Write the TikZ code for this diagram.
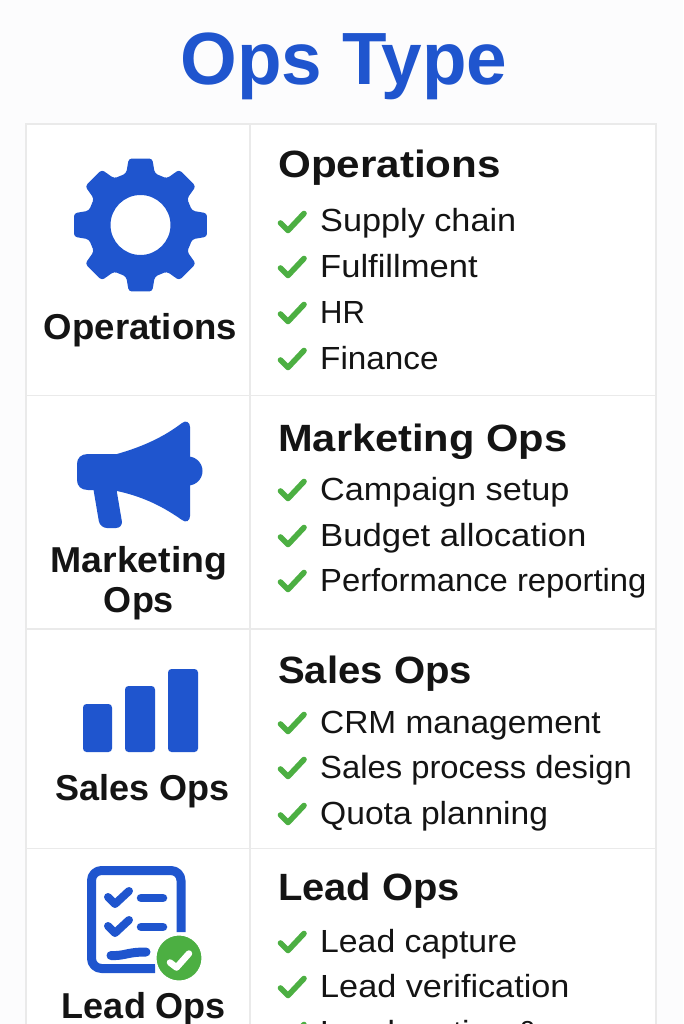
\documentclass[tikz,border=0pt]{standalone}
\usepackage{graphicx}
\usepackage{fontspec}
\setmainfont{Liberation Sans}
\definecolor{brandblue}{HTML}{1F55CE}
\definecolor{tickgreen}{HTML}{4CAF42}
\definecolor{gridgrey}{HTML}{EAEAEA}
\definecolor{inkblack}{HTML}{141414}
\definecolor{pagebg}{HTML}{FCFCFD}
\tikzset{
  x=1pt,y=-1pt,
  titletext/.style={anchor=base,inner sep=0pt,text=brandblue,font=\fontsize{74}{74}\selectfont\bfseries},
  headtext/.style={anchor=base west,inner sep=0pt,text=inkblack,font=\fontsize{38}{38}\selectfont\bfseries},
  labeltext/.style={anchor=base,inner sep=0pt,text=inkblack,font=\fontsize{36}{36}\selectfont\bfseries},
  itemtext/.style={anchor=base west,inner sep=0pt,text=inkblack,font=\fontsize{32}{32}\selectfont},
  tickmark/.style={draw=tickgreen,line width=5.6pt,line cap=round,line join=round},
  gridline/.style={draw=gridgrey,line width=1.5pt},
  iconfill/.style={fill=brandblue,draw=none},
  iconstroke/.style={draw=brandblue,line cap=round,line join=round},
}
\newcommand{\opsitem}[4]{%
  \node[itemtext] (#2) at (320,#3) {\scalebox{#1}[1]{#4}};
  \draw[tickmark] (280.5,#3-9) -- (288,#3-1.5) -- (304,#3-18.5);
}
\begin{document}
\begin{tikzpicture}
\useasboundingbox (0,0) rectangle (683,1024);
\clip (0,0) rectangle (683,1024);
\fill[pagebg] (0,0) rectangle (683,1024);
\node[titletext] (title) at (344,85) {\scalebox{0.985}[1]{Ops Type}};
% table
\fill[white] (26,124) rectangle (656,1030);
\draw[gridline] (26,1030) -- (26,124) -- (656,124) -- (656,1030);
\draw[gridline] (250,124) -- (250,1030);
\draw[gridline] (26,395.5) -- (656,395.5);
\draw[gridline] (26,629) -- (656,629);
\draw[gridline] (26,848.5) -- (656,848.5);
% gear
\begin{scope}[shift={(140.5,225)}]
\fill[iconfill,rounded corners=3pt,even odd rule] (22.5:53.5)
  \foreach \a in {45,90,...,360} {
    -- (\a-15.5:53.5) -- (\a-10:67.5) -- (\a+10:67.5) -- (\a+15.5:53.5)
  } -- cycle (0,0) circle (30);
\end{scope}
% megaphone
\fill[iconfill,rounded corners=7pt] (91,475) -- (100,528) -- (123,528) -- (114,475) -- cycle;
\fill[iconfill] (188,471) circle (14.5);
\fill[iconfill] (88,454) -- (117,454) .. controls (145,446) and (165,436) .. (182,423)
  .. controls (186,420) and (190,422) .. (190,427) -- (190,516)
  .. controls (190,521) and (186,523) .. (182,520)
  .. controls (165,508) and (145,497) .. (117,491) -- (88,490)
  .. controls (81,490) and (77,486) .. (77,480) -- (77,464)
  .. controls (77,458) and (81,454) .. (88,454) -- cycle;
% bars
\fill[iconfill,rounded corners=3.5pt] (83,704) rectangle (112,752);
\fill[iconfill,rounded corners=3.5pt] (125,686) rectangle (155,752);
\fill[iconfill,rounded corners=3.5pt] (168,669) rectangle (198,752);
% checklist
\draw[iconstroke,line width=9pt,rounded corners=10pt,line cap=butt] (181,932) -- (181,870.5) -- (91.5,870.5) -- (91.5,968.5) -- (155,968.5);
\draw[iconstroke,line width=8pt] (108,897) -- (115,904) -- (129,891);
\draw[iconstroke,line width=8pt] (108,926) -- (115,933) -- (129,920);
\draw[iconstroke,line width=8.5pt] (141,898) -- (163,898);
\draw[iconstroke,line width=8.5pt] (141,927) -- (163,927);
\draw[iconstroke,line width=9pt] (111,955.5) .. controls (126,956) and (126,952) .. (146,952);
\fill[tickgreen,draw=white,line width=2pt] (179,958) circle (23.5);
\draw[white,line width=6.5pt,line cap=round,line join=round] (170,962.5) -- (176.5,967.5) -- (189,953.5);
% left labels
\node[labeltext] (lblops) at (140.5,339) {\scalebox{1.016}[1]{Operations}};
\node[labeltext] (lblmkta) at (139,572) {\scalebox{1.04}[1]{Marketing}};
\node[labeltext] (lblmktb) at (139,612) {Ops};
\node[labeltext] (lblsales) at (142.5,800) {Sales Ops};
\node[labeltext] (lbllead) at (144,1018) {Lead Ops};
% right columns
\node[headtext] (headops) at (278,178) {\scalebox{1.11}[1]{Operations}};
\opsitem{1.07}{ia}{232}{Supply chain}
\opsitem{1.08}{ib}{277}{Fulfillment}
\opsitem{0.97}{ic}{323}{HR}
\opsitem{1.04}{id}{369}{Finance}
\node[headtext] (headmkt) at (278,451) {\scalebox{1.095}[1]{Marketing Ops}};
\opsitem{1.07}{ma}{500}{Campaign setup}
\opsitem{1.085}{mb}{546}{Budget allocation}
\opsitem{1.025}{mc}{591}{Performance reporting}
\node[headtext] (headsales) at (278,683) {\scalebox{1.055}[1]{Sales Ops}};
\opsitem{1.045}{sa}{733}{CRM management}
\opsitem{1.025}{sb}{778}{Sales process design}
\opsitem{1.05}{sc}{824}{Quota planning}
\node[headtext] (headlead) at (278,900) {\scalebox{1.05}[1]{Lead Ops}};
\opsitem{1.055}{la}{952}{Lead capture}
\opsitem{1.07}{lb}{997}{Lead verification}
\opsitem{1.05}{lc}{1043}{Lead routing \&}
\end{tikzpicture}
\end{document}
